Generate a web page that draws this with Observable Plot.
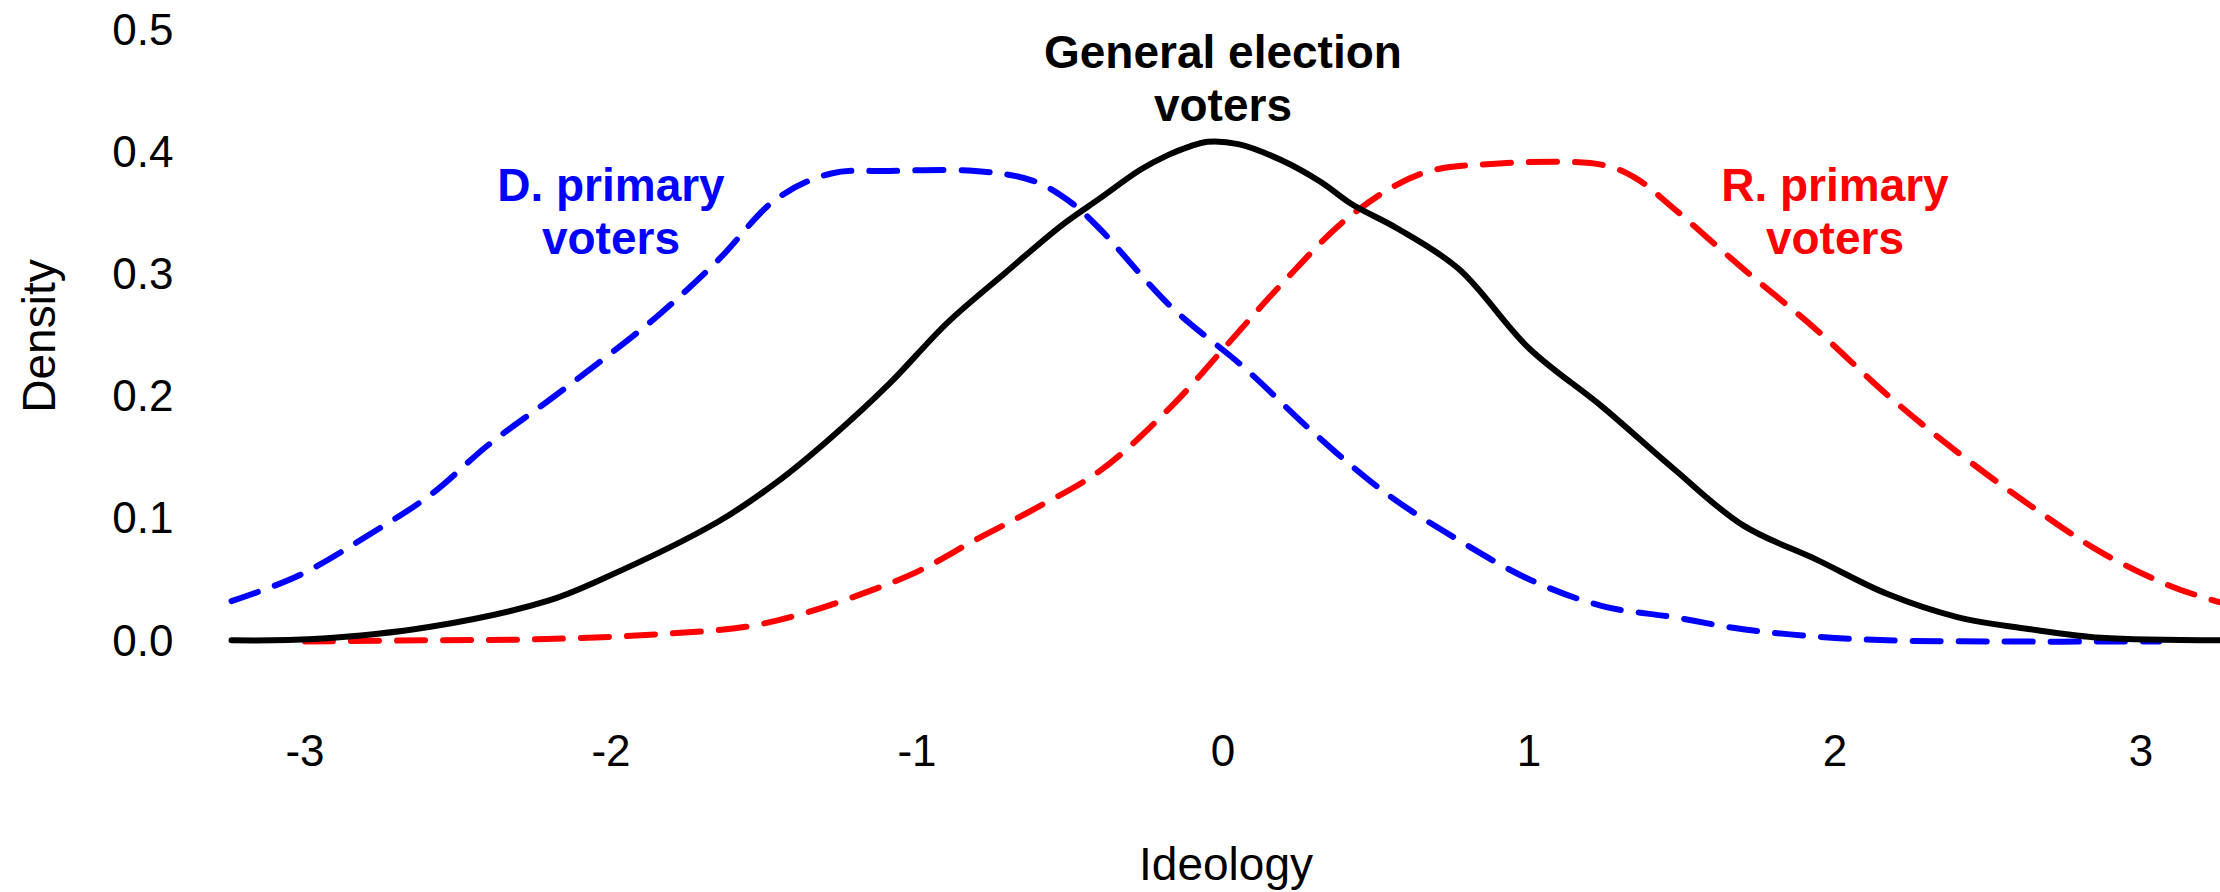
<!DOCTYPE html>
<html>
<head>
<meta charset="utf-8">
<script src="https://cdn.jsdelivr.net/npm/d3@7"></script>
<script src="https://cdn.jsdelivr.net/npm/@observablehq/plot@0.6"></script>
<style>
  html, body { margin: 0; padding: 0; background: #fff; }
  svg { display: block; }
</style>
</head>
<body>
<div id="chart"></div>
<script>
// ---- Data ----
const generalX = [-3.24, -2.97, -2.59, -2.21, -2.03, -1.65, -1.46, -1.28, -1.09, -0.90, -0.71, -0.53, -0.40, -0.27, -0.18, -0.11, -0.05, 0.05, 0.19, 0.32, 0.42, 0.57, 0.77, 1.00, 1.24, 1.47, 1.70, 1.94, 2.17, 2.40, 2.64, 2.87, 3.26];
const generalY = [0.001, 0.002, 0.012, 0.033, 0.051, 0.098, 0.130, 0.167, 0.211, 0.261, 0.302, 0.340, 0.363, 0.386, 0.398, 0.405, 0.409, 0.407, 0.394, 0.376, 0.358, 0.338, 0.305, 0.240, 0.192, 0.142, 0.095, 0.067, 0.039, 0.020, 0.010, 0.003, 0.001];

const demX = [-3.24, -3.02, -2.78, -2.59, -2.40, -2.21, -2.03, -1.84, -1.65, -1.46, -1.28, -1.09, -0.81, -0.62, -0.49, -0.40, -0.17, 0.07, 0.30, 0.54, 0.77, 1.00, 1.24, 1.47, 1.70, 1.94, 2.17, 2.50, 3.06];
const demY = [0.033, 0.054, 0.089, 0.120, 0.161, 0.196, 0.230, 0.268, 0.312, 0.362, 0.383, 0.385, 0.385, 0.377, 0.358, 0.337, 0.274, 0.224, 0.170, 0.120, 0.083, 0.051, 0.029, 0.020, 0.010, 0.004, 0.001, 0.000, 0.000];

const repX = [-3.00, -2.59, -2.21, -1.84, -1.56, -1.37, -1.18, -1.00, -0.81, -0.62, -0.40, -0.17, 0.00, 0.19, 0.42, 0.65, 0.89, 1.24, 1.35, 1.47, 1.70, 1.94, 2.17, 2.40, 2.64, 2.87, 3.10, 3.26];
const repY = [0.000, 0.001, 0.002, 0.006, 0.012, 0.023, 0.039, 0.057, 0.083, 0.108, 0.140, 0.192, 0.239, 0.292, 0.349, 0.383, 0.391, 0.390, 0.379, 0.355, 0.305, 0.255, 0.202, 0.155, 0.111, 0.073, 0.045, 0.032];

const xTicks = [-3, -2, -1, 0, 1, 2, 3];
const yTicks = [0, 0.1, 0.2, 0.3, 0.4, 0.5];

const labelText = ["General election\nvoters", "D. primary\nvoters", "R. primary\nvoters"];
const labelX = [0, -2, 2];
const labelY = [0.426, 0.317, 0.317];
const labelColor = ["#000000", "#0000ff", "#ff0000"];

// ---- Tables built from the arrays ----
const toRows = (xs, ys) => xs.map((x, i) => ({x, y: ys[i]}));
const general = toRows(generalX, generalY);
const dem = toRows(demX, demY);
const rep = toRows(repX, repY);
const labels = labelText.map((t, i) => ({text: t, x: labelX[i], y: labelY[i], color: labelColor[i]}));

const font = "'Liberation Sans', Arial, Helvetica, sans-serif";

const chart = Plot.plot({
  width: 2220,
  height: 892,
  marginLeft: 231,
  marginRight: 0,
  marginTop: 30,
  marginBottom: 251,
  style: {fontFamily: font, background: "#fff", color: "#000", overflow: "visible"},
  x: {domain: [-3.24, 3.26]},
  y: {domain: [0, 0.5]},
  marks: [
    Plot.axisX({ticks: xTicks, tickSize: 0, tickPadding: 93, fontSize: 44, tickFormat: d => String(d), label: null}),
    Plot.axisY({ticks: yTicks, tickSize: 0, tickPadding: 58, fontSize: 44, tickFormat: d => d.toFixed(1), label: null}),
    Plot.text(["Ideology"], {text: d => d, frameAnchor: "bottom", dy: 224, fontSize: 46, lineAnchor: "middle", fill: "#000"}),
    Plot.text(["Density"], {text: d => d, frameAnchor: "left", dx: -191, rotate: -90, fontSize: 46, textAnchor: "middle", lineAnchor: "middle", fill: "#000"}),
    Plot.line(dem, {x: "x", y: "y", stroke: "#0000ff", strokeWidth: 6, strokeDasharray: "28,18", strokeLinecap: "round", curve: "catmull-rom"}),
    Plot.line(rep, {x: "x", y: "y", stroke: "#ff0000", strokeWidth: 6, strokeDasharray: "28,18", strokeLinecap: "round", curve: "catmull-rom"}),
    Plot.line(general, {x: "x", y: "y", stroke: "#000000", strokeWidth: 6, curve: "catmull-rom"}),
    Plot.text(labels, {x: "x", y: "y", text: "text", fill: d => d.color, fontWeight: "bold", fontSize: 46, lineAnchor: "bottom", lineHeight: 1.15})
  ]
});

document.getElementById("chart").appendChild(chart);
</script>
</body>
</html>
